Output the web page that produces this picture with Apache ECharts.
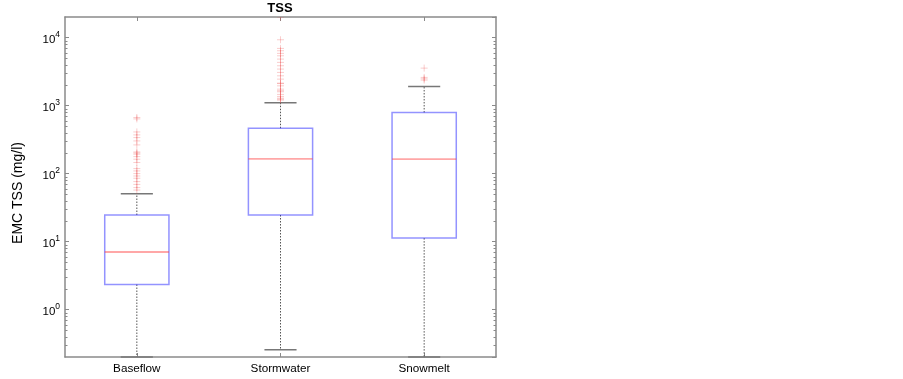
<!DOCTYPE html>
<html><head><meta charset="utf-8">
<script src="https://cdn.jsdelivr.net/npm/echarts@6/dist/echarts.min.js"></script>
<style>html,body{margin:0;padding:0;background:#fff}#c{width:903px;height:379px}</style>
</head><body><div id="c"></div>
<script>
// ---- data ----
const categories = ['Baseflow', 'Stormwater', 'Snowmelt'];
const lowerWhisker = [0.2, 0.255, 0.2];
const q1Values = [2.33, 24.5, 11.2];
const medianValues = [7.0, 164, 162];
const q3Values = [24.5, 463, 789];
const upperWhisker = [50.5, 1092, 1906];
const outliersBaseflow = [665, 635, 408, 369, 337, 301, 263, 207, 200, 192, 177, 162, 145, 118, 109, 99.6, 91.8, 85, 76, 69, 62, 57];
const outliersStormwater = [20000, 9250, 6900, 6380, 5830, 5380, 4810, 4300, 3840, 3430, 3060, 2730, 2440, 2130, 2100, 1945, 1738, 1650, 1589, 1453, 1357, 1280, 1239, 1200];
const outliersSnowmelt = [3540, 2585, 2470, 2360];
const yTickExponents = [0, 1, 2, 3, 4];
const yMinorMultipliers = [2, 3, 4, 5, 6, 7, 8, 9];
const yMin = 0.2, yMax = 20000;

const FONT = 'Liberation Sans';
const AXIS_COLOR = '#8a8a8a';

const boxData = categories.map((c, i) => [i, lowerWhisker[i], q1Values[i], medianValues[i], q3Values[i], upperWhisker[i]]);
const outlierData = [];
[outliersBaseflow, outliersStormwater, outliersSnowmelt].forEach((arr, i) => arr.forEach(v => outlierData.push([i, v])));
const minorData = [];
for (let k = -1; k <= 4; k++) {
  yMinorMultipliers.forEach(m => {
    const v = m * Math.pow(10, k);
    if (v > yMin && v < yMax) minorData.push([0, v]);
  });
}

const chart = echarts.init(document.getElementById('c'), null, {renderer: 'canvas'});

function yAxisCfg(pos) {
  return {
    type: 'log', logBase: 10, min: yMin, max: yMax, position: pos,
    name: pos === 'left' ? 'EMC TSS (mg/l)' : '',
    nameLocation: 'middle', nameGap: 40, nameRotate: 90,
    nameTextStyle: {fontFamily: FONT, fontSize: 14, color: '#000', padding: [0, 12, 0, 0]},
    axisLine: {show: true, onZero: false, lineStyle: {color: AXIS_COLOR, width: 1.5}},
    axisTick: {show: true, inside: true, length: 4, lineStyle: {color: AXIS_COLOR, width: 1}},
    splitLine: {show: false},
    minorTick: {show: false},
    axisLabel: {
      show: pos === 'left', margin: 5, showMinLabel: false, showMaxLabel: false,
      fontFamily: FONT, fontSize: 11, color: '#000',
      formatter: function (v) {
        const e = Math.round(Math.log10(v));
        if (Math.abs(Math.log10(v) - e) > 1e-6 || yTickExponents.indexOf(e) < 0) return '';
        return '{b|10}{s|' + e + '}';
      },
      rich: {
        b: {fontFamily: FONT, fontSize: 11.5, color: '#000', padding: [4, 0, 0, 0]},
        s: {fontFamily: FONT, fontSize: 8.5, color: '#000', padding: [0, 0, 5, 0]}
      }
    }
  };
}
function xAxisCfg(pos) {
  return {
    type: 'category', data: categories, position: pos, boundaryGap: true,
    axisLine: {show: true, onZero: false, lineStyle: {color: AXIS_COLOR, width: 1.5}},
    axisTick: {show: true, inside: true, alignWithLabel: true, length: 4, lineStyle: {color: AXIS_COLOR, width: 1}},
    splitLine: {show: false},
    axisLabel: {show: pos === 'bottom', margin: 6, fontFamily: FONT, fontSize: 11.7, color: '#000'}
  };
}

chart.setOption({
  animation: false,
  backgroundColor: '#fff',
  title: {
    text: 'TSS', left: 280, top: 2, textAlign: 'center', padding: 0,
    textStyle: {fontFamily: FONT, fontSize: 13, fontWeight: 'bold', color: '#000'}
  },
  grid: {left: 65, top: 17, right: 407, bottom: 22, containLabel: false},
  xAxis: [xAxisCfg('bottom'), xAxisCfg('top')],
  yAxis: [yAxisCfg('left'), yAxisCfg('right')],
  series: [
    {
      type: 'custom', name: 'minor', coordinateSystem: 'cartesian2d', silent: true, z: 1,
      data: minorData,
      renderItem: function (params, api) {
        const cs = params.coordSys;
        const y = Math.round(api.coord([0, api.value(1)])[1]) + 0.5;
        const st = {stroke: AXIS_COLOR, lineWidth: 1};
        return {type: 'group', children: [
          {type: 'line', shape: {x1: cs.x, y1: y, x2: cs.x + 2.5, y2: y}, style: st},
          {type: 'line', shape: {x1: cs.x + cs.width - 2.5, y1: y, x2: cs.x + cs.width, y2: y}, style: st}
        ]};
      }
    },
    {
      type: 'custom', name: 'box', coordinateSystem: 'cartesian2d', silent: true, z: 2,
      data: boxData,
      renderItem: function (params, api) {
        const cs = params.coordSys;
        const band = cs.width / categories.length;
        const i = api.value(0);
        const x = api.coord([i, api.value(3)])[0];
        const yLo = api.coord([i, api.value(1)])[1];
        const yQ1 = api.coord([i, api.value(2)])[1];
        const yMed = api.coord([i, api.value(3)])[1];
        const yQ3 = api.coord([i, api.value(4)])[1];
        const yHi = api.coord([i, api.value(5)])[1];
        const w = band * 0.447;
        const cw = w * 0.5;
        const dash = {stroke: '#555', lineWidth: 1, lineDash: [1.5, 1.5]};
        const cap = {stroke: '#777', lineWidth: 1.5};
        return {type: 'group', children: [
          {type: 'line', shape: {x1: x, y1: yQ3, x2: x, y2: yHi}, style: dash},
          {type: 'line', shape: {x1: x, y1: yQ1, x2: x, y2: yLo}, style: dash},
          {type: 'line', shape: {x1: x - cw / 2, y1: yHi, x2: x + cw / 2, y2: yHi}, style: cap},
          {type: 'line', shape: {x1: x - cw / 2, y1: yLo, x2: x + cw / 2, y2: yLo}, style: cap},
          {type: 'rect', shape: {x: x - w / 2, y: yQ3, width: w, height: yQ1 - yQ3},
            style: {fill: 'none', stroke: 'rgba(40,40,255,0.5)', lineWidth: 1.5}},
          {type: 'line', shape: {x1: x - w / 2, y1: yMed, x2: x + w / 2, y2: yMed},
            style: {stroke: 'rgba(255,60,60,0.45)', lineWidth: 1.8}}
        ]};
      }
    },
    {
      type: 'custom', name: 'outliers', coordinateSystem: 'cartesian2d', silent: true, z: 3, clip: true,
      data: outlierData,
      renderItem: function (params, api) {
        const p = api.coord([api.value(0), api.value(1)]);
        const r = 3.5;
        const st = {stroke: 'rgba(235,60,60,0.25)', lineWidth: 1};
        return {type: 'group', children: [
          {type: 'line', shape: {x1: p[0] - r, y1: p[1], x2: p[0] + r, y2: p[1]}, style: st},
          {type: 'line', shape: {x1: p[0], y1: p[1] - r, x2: p[0], y2: p[1] + r}, style: st}
        ]};
      }
    }
  ]
});
</script>
</body></html>
